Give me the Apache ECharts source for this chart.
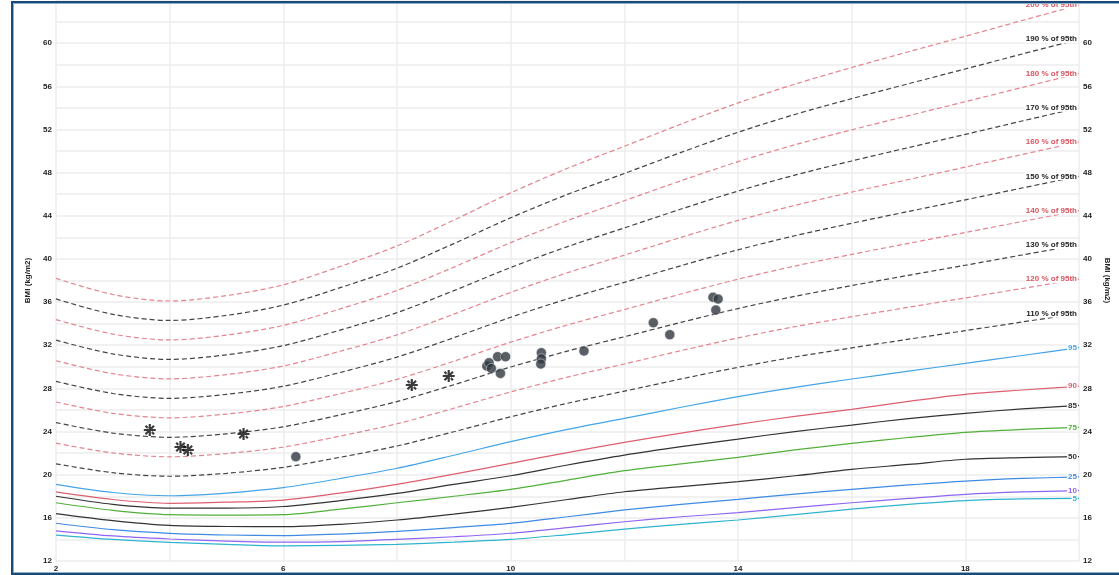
<!DOCTYPE html>
<html>
<head>
<meta charset="utf-8">
<title>BMI-for-age</title>
<script src="https://cdn.jsdelivr.net/npm/echarts@6/dist/echarts.min.js"></script>
<style>
  html, body { margin: 0; padding: 0; background: #fff; overflow: hidden; }
  #chart { position: absolute; left: 0; top: 0; width: 1119px; height: 575px; }
  #frame {
    position: absolute; left: 11px; top: 1px; width: 1140px; height: 570px;
    border: 2px solid #1b4a77; border-right: none;
    box-shadow: inset 1px 1px 0 #8fb1d0, inset 0 -1px 0 #8fb1d0;
    pointer-events: none;
  }
</style>
</head>
<body>
<div id="chart"></div>
<div id="frame"></div>
<script>
// Age in years (x axis)
const ages = [2, 3, 4, 5, 6, 7, 8, 9, 10, 11, 12, 13, 14, 15, 16, 17, 18, 19, 20];

// BMI percentile curves (kg/m2) at each age
const p5  = [14.4, 14.0, 13.73, 13.55, 13.4, 13.45, 13.55, 13.75, 14.0, 14.45, 14.95, 15.4, 15.8, 16.3, 16.8, 17.25, 17.6, 17.75, 17.8];
const p10 = [14.8, 14.32, 14.04, 13.85, 13.75, 13.8, 14.0, 14.25, 14.57, 15.1, 15.64, 16.1, 16.48, 16.95, 17.4, 17.8, 18.18, 18.4, 18.52];
const p25 = [15.5, 14.9, 14.56, 14.41, 14.36, 14.5, 14.75, 15.1, 15.49, 16.1, 16.73, 17.25, 17.72, 18.2, 18.64, 19.05, 19.41, 19.65, 19.79];
const p50 = [16.4, 15.75, 15.3, 15.2, 15.18, 15.4, 15.8, 16.35, 16.97, 17.7, 18.42, 18.9, 19.35, 19.9, 20.5, 20.95, 21.43, 21.58, 21.67];
const p75 = [17.4, 16.7, 16.3, 16.26, 16.3, 16.8, 17.4, 18.0, 18.64, 19.5, 20.37, 21.0, 21.6, 22.3, 22.9, 23.45, 23.93, 24.2, 24.39];
const p85 = [18.0, 17.25, 16.9, 16.9, 17.05, 17.6, 18.27, 19.1, 19.9, 20.9, 21.82, 22.6, 23.3, 24.0, 24.6, 25.2, 25.69, 26.1, 26.43];
const p90 = [18.4, 17.7, 17.35, 17.45, 17.65, 18.3, 19.1, 20.05, 21.05, 22.05, 23.0, 23.85, 24.67, 25.4, 26.06, 26.8, 27.45, 27.85, 28.2];
const p95 = [19.1, 18.35, 18.05, 18.3, 18.8, 19.65, 20.6, 21.8, 23.06, 24.2, 25.22, 26.25, 27.23, 28.1, 28.87, 29.6, 30.32, 31.05, 31.77];

// Extended curves: percent of the 95th percentile
const pctOf95 = [110, 120, 130, 140, 150, 160, 170, 180, 190, 200];

// Patient measurements: [age, BMI]
const starAges = [3.65, 4.19, 4.32, 5.30, 8.26, 8.91];
const starBmi  = [24.14, 22.57, 22.29, 23.77, 28.31, 29.15];
const dotAges  = [6.22, 9.58, 9.62, 9.66, 9.77, 9.91, 9.82, 10.54, 10.54, 10.53, 11.29, 12.51, 12.80, 13.56, 13.65, 13.61];
const dotBmi   = [21.67, 30.07, 30.38, 29.85, 30.94, 30.94, 29.39, 31.31, 30.75, 30.26, 31.46, 34.09, 32.98, 36.44, 36.28, 35.26];

// Axis ranges / ticks
const xMin = 2, xMax = 20, xStep = 2;
const yMin = 12, yMax = 64, yStep = 2;
const axisTitle = 'BMI (kg/m2)';

const FONT = 'Liberation Sans, Arial, sans-serif';

const percentileCurves = [
  { name: '5',  values: p5,  color: '#2fb4cf' },
  { name: '10', values: p10, color: '#8f66f2' },
  { name: '25', values: p25, color: '#3d8be3' },
  { name: '50', values: p50, color: '#333333' },
  { name: '75', values: p75, color: '#52b03a' },
  { name: '85', values: p85, color: '#333333' },
  { name: '90', values: p90, color: '#dd5f6f' },
  { name: '95', values: p95, color: '#45a5e6' }
];

function pairs(xs, ys) { return xs.map((x, i) => [x, ys[i]]); }

function curveSeries(name, data, color, dashed, labelColor) {
  return {
    type: 'line',
    name: name,
    data: data,
    smooth: 0.3,
    showSymbol: false,
    symbol: 'none',
    silent: true,
    z: 2,
    lineStyle: { color: color, width: 1.2, type: dashed ? [5, 3] : 'solid' },
    endLabel: {
      show: true,
      formatter: name,
      distance: -1,
      align: 'right',
      verticalAlign: 'middle',
      color: labelColor || color,
      fontFamily: FONT,
      fontSize: 8,
      fontWeight: 'bold',
      backgroundColor: '#ffffff',
      padding: [0, 1]
    }
  };
}

const series = [];
percentileCurves.forEach(c => {
  series.push(curveSeries(c.name, pairs(ages, c.values), c.color, false));
});
pctOf95.forEach((pct, k) => {
  const odd = k % 2 === 1;
  const lineColor = odd ? '#e3848e' : '#444444';
  const txtColor = odd ? '#d9545f' : '#1e1e1e';
  const vals = p95.map(v => v * pct / 100);
  series.push(curveSeries(pct + ' % of 95th', pairs(ages, vals), lineColor, true, txtColor));
});

// Asterisk marker
const starPath = 'path://M-5,-0.9H5V0.9H-5Z M-0.9,-5H0.9V5H-0.9Z ' +
  'M2.9,4.2L4.2,2.9L-2.9,-4.2L-4.2,-2.9Z ' +
  'M-2.9,4.2L-4.2,2.9L2.9,-4.2L4.2,-2.9Z ' +
  'M-2,-2H2V2H-2Z';

series.push({
  type: 'scatter',
  name: 'dots',
  data: pairs(dotAges, dotBmi),
  symbol: 'circle',
  symbolSize: 10,
  z: 5,
  itemStyle: { color: '#30373f', borderColor: '#e8eaec', borderWidth: 0.6 }
});
series.push({
  type: 'scatter',
  name: 'stars',
  data: pairs(starAges, starBmi),
  symbol: starPath,
  symbolSize: 12,
  z: 5,
  itemStyle: { color: '#0a0a0a' }
});

const labelStyle = { fontFamily: FONT, fontSize: 8, fontWeight: 'bold', color: '#222222' };

const chart = echarts.init(document.getElementById('chart'), null, { renderer: 'canvas' });
chart.setOption({
  animation: false,
  backgroundColor: '#ffffff',
  grid: { left: 56, right: 36, top: 0, bottom: 14, containLabel: false },
  xAxis: {
    type: 'value',
    min: xMin, max: xMax, interval: xStep,
    axisLine: { show: false },
    axisTick: { show: false },
    splitLine: { show: true, lineStyle: { color: '#ececec', width: 1.5 } },
    axisLabel: Object.assign({
      margin: 4,
      formatter: v => ((v - xMin) % 4 === 0 && v < xMax) ? String(v) : ''
    }, labelStyle)
  },
  yAxis: [
    {
      type: 'value',
      position: 'left',
      min: yMin, max: yMax, interval: yStep,
      name: axisTitle,
      nameLocation: 'middle',
      nameRotate: 90,
      nameGap: 22,
      nameTextStyle: labelStyle,
      axisLine: { show: false },
      axisTick: { show: false },
      splitLine: { show: true, lineStyle: { color: '#ececec', width: 1.5 } },
      axisLabel: Object.assign({
        margin: 4,
        formatter: v => (v % 4 === 0 && v <= 60) ? String(v) : ''
      }, labelStyle)
    },
    {
      type: 'value',
      position: 'right',
      min: yMin, max: yMax, interval: yStep,
      name: axisTitle,
      nameLocation: 'middle',
      nameRotate: -90,
      nameGap: 24,
      nameTextStyle: labelStyle,
      axisLine: { show: false },
      axisTick: { show: false },
      splitLine: { show: false },
      axisLabel: Object.assign({
        margin: 4,
        formatter: v => (v % 4 === 0 && v <= 60) ? String(v) : ''
      }, labelStyle)
    }
  ],
  series: series
});
</script>
</body>
</html>
